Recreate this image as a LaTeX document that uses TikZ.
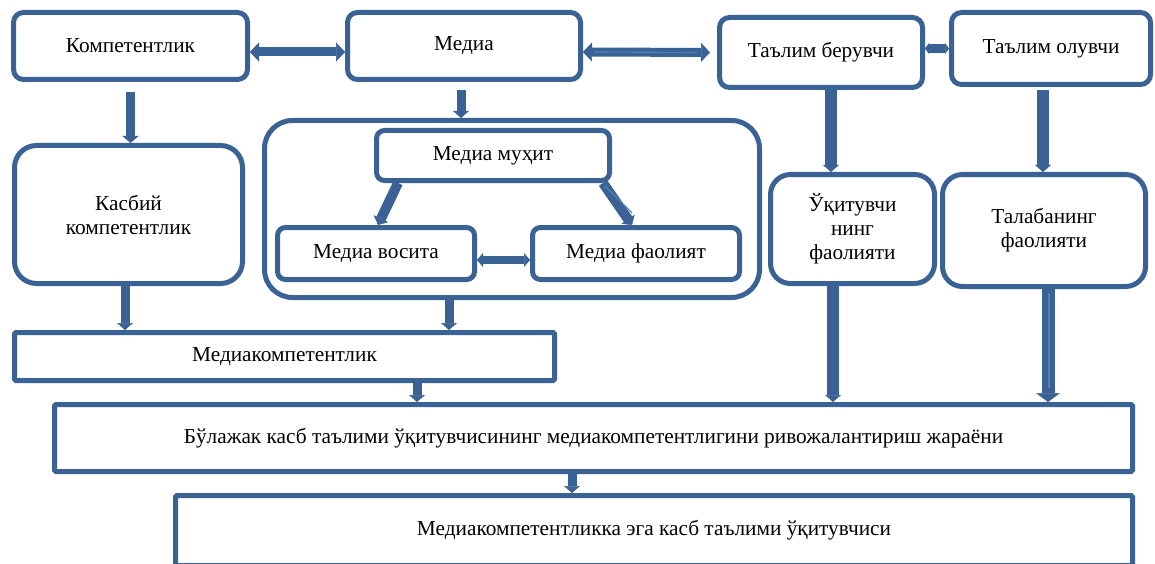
\documentclass[tikz,border=0pt]{standalone}
\usepackage{fontspec}
\setmainfont{Liberation Serif}
\usetikzlibrary{arrows.meta,calc}
\definecolor{bc}{RGB}{58,98,148}
\definecolor{lc}{RGB}{84,128,186}
\newcommand{\dfs}{\fontsize{21.3}{24}\selectfont}
\begin{document}
\begin{tikzpicture}[x=1pt,y=-1pt,
  box/.style={draw=bc, line width=5pt, fill=white, rounded corners=10pt, inner sep=0pt, align=center, font=\dfs},
  sqbox/.style={box, rounded corners=1.5pt},
  fat/.style={draw=bc, line width=9pt, -{Triangle[length=7pt,width=16pt,line width=0.5pt]}},
  dfat/.style={draw=bc, line width=9pt, {Triangle[length=9pt,width=19pt,line width=0.5pt]}-{Triangle[length=9pt,width=19pt,line width=0.5pt]}},
  glint/.style={draw=lc, line width=1.1pt}
]
\useasboundingbox (0,0) rectangle (1155,564);
\clip (0,0) rectangle (1155,564);

% top row
\node[box, minimum width=234pt, minimum height=67pt] (komp) at (130.5,46) {Компетентлик};
\node[box, minimum width=233pt, minimum height=67pt] (media) at (464,46) {Медиа};
\node[box, minimum width=203pt, minimum height=70pt] (beruv) at (821,52.5) {Таълим берувчи};
\node[box, minimum width=199pt, minimum height=72pt] (oluv) at (1051,48.5) {Таълим олувчи};

% second row
\node[box, rounded corners=22pt, minimum width=228pt, minimum height=138pt] (kasbiy) at (128.5,214.5) {Касбий\\компетентлик};
\node[box, rounded corners=28pt, minimum width=495pt, minimum height=177pt] (cont) at (512,209) {};
\node[box, rounded corners=8pt, minimum width=233pt, minimum height=50pt] (muhit) at (493,155.5) {Медиа муҳит};
\node[box, rounded corners=8pt, minimum width=197pt, minimum height=52pt] (vosita) at (376,253.5) {Медиа восита};
\node[box, rounded corners=8pt, minimum width=207pt, minimum height=52pt] (faol) at (636,253.5) {Медиа фаолият};
\node[box, rounded corners=20pt, minimum width=164pt, minimum height=109pt] (ukit) at (852.5,229) {Ўқитувчи\\нинг\\фаолияти};
\node[box, rounded corners=20pt, minimum width=203pt, minimum height=112pt] (talaba) at (1044,230.5) {Талабанинг\\фаолияти};

% bottom rows
\node[sqbox, minimum width=540pt, minimum height=48pt] (mk) at (284.5,356.5) {Медиакомпетентлик};
\node[sqbox, minimum width=1078pt, minimum height=67pt] (bul) at (593.5,438) {Бўлажак касб таълими ўқитувчисининг медиакомпетентлигини ривожалантириш жараёни};
\node[sqbox, minimum width=957pt, minimum height=70pt] (final) at (654,530.5) {Медиакомпетентликка эга касб таълими ўқитувчиси};

% horizontal connectors
\draw[dfat] ([yshift=-6pt]komp.east) -- ([yshift=-6pt]media.west);
\draw[dfat, shorten >=7pt] ([yshift=-6pt]media.east) -- (beruv.west);
\draw[glint] ([yshift=-6pt,xshift=12pt]media.east) -- ([xshift=-20pt]beruv.west);
\draw[draw=bc, line width=9pt, {Triangle[length=4pt,width=11pt,line width=0.5pt]}-{Triangle[length=4pt,width=11pt,line width=0.5pt]}] (beruv.east |- oluv.west) -- (oluv.west);
\draw[draw=bc, line width=8pt, {Triangle[length=6pt,width=14pt,line width=0.5pt]}-{Triangle[length=6pt,width=14pt,line width=0.5pt]}] ([yshift=-6.5pt]vosita.east) -- ([yshift=-6.5pt]faol.west);

% vertical connectors
\draw[fat, shorten <=10pt] (komp.south) -- (komp.south |- kasbiy.north);
\draw[fat, shorten <=8pt] ([xshift=-3pt]media.south) -- ([xshift=-3pt]media.south |- cont.north);
\draw[fat, line width=10pt] ([xshift=-95pt]muhit.south) -- ([xshift=2pt]vosita.north);
\draw[fat, line width=10pt] ([xshift=110pt]muhit.south) -- ([xshift=-4pt]faol.north);
\draw[glint] ([xshift=112pt,yshift=-3pt]muhit.south) -- ([xshift=-4pt,yshift=12pt]faol.north);
\draw[fat] ([xshift=-3.5pt]kasbiy.south) -- ([xshift=-3.5pt]kasbiy.south |- mk.north);
\draw[fat] ([xshift=-63pt]cont.south) -- ([xshift=-63pt]cont.south |- mk.north);
\draw[fat] ([xshift=132.5pt]mk.south) -- ([xshift=132.5pt]mk.south |- bul.north);
\draw[fat, line width=12pt] ([xshift=10pt]beruv.south) -- ([xshift=10pt]beruv.south |- ukit.north);
\draw[fat, line width=12pt, shorten <=3pt] ([xshift=-8pt]oluv.south) -- ([xshift=-8pt]oluv.south |- talaba.north);
\draw[fat, line width=12pt] ([xshift=-19.5pt]ukit.south) -- ([xshift=-19.5pt]ukit.south |- bul.north);
\draw[draw=bc, line width=13pt, -{Triangle[length=9pt,width=24pt,line width=0.5pt]}] ([xshift=4pt]talaba.south) -- ([xshift=4pt]talaba.south |- bul.north);
\draw[glint] ($(talaba.south)+(5,4)$) -- ($(talaba.south |- bul.north)+(5,-14)$);
\draw[fat] ([xshift=-21.5pt]bul.south) -- ([xshift=-21.5pt]bul.south |- final.north);
\end{tikzpicture}
\end{document}
